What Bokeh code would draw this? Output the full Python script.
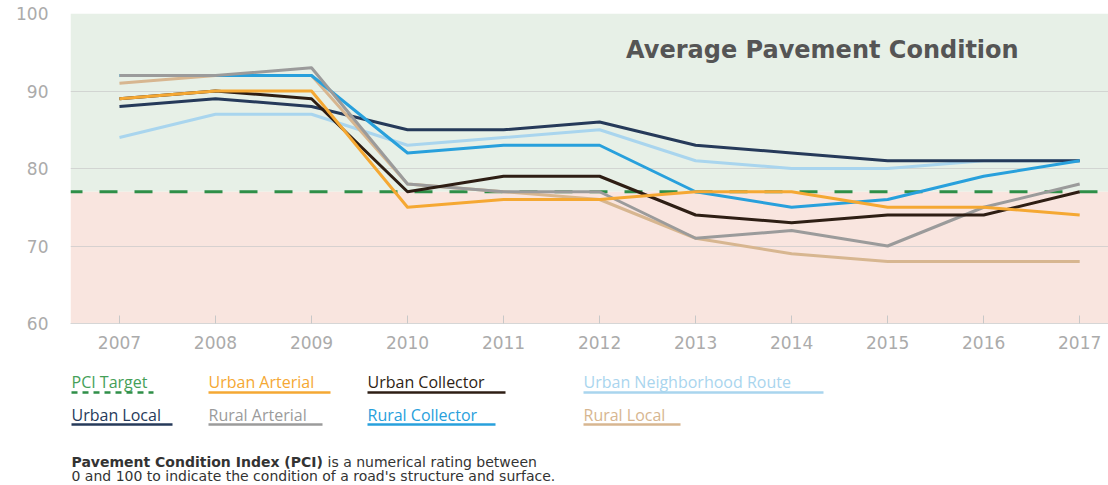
from bokeh.plotting import figure
from bokeh.models import Range1d, BoxAnnotation, Span, Label, FixedTicker
from bokeh.layouts import column
from bokeh.embed import file_html
from bokeh.resources import INLINE
from bokeh.core.properties import value

# ---------------- data ----------------
years = [2007, 2008, 2009, 2010, 2011, 2012, 2013, 2014, 2015, 2016, 2017]
pci_target = 77
urban_arterial = [89, 90, 90, 75, 76, 76, 77, 77, 75, 75, 74]
urban_collector = [89, 90, 89, 77, 79, 79, 74, 73, 74, 74, 77]
urban_neighborhood_route = [84, 87, 87, 83, 84, 85, 81, 80, 80, 81, 81]
urban_local = [88, 89, 88, 85, 85, 86, 83, 82, 81, 81, 81]
rural_arterial = [92, 92, 93, 78, 77, 77, 71, 72, 70, 75, 78]
rural_collector = [92, 92, 92, 82, 83, 83, 77, 75, 76, 79, 81]
rural_local = [91, 92, 92, 78, 77, 76, 71, 69, 68, 68, 68]
y_ticks = [60, 70, 80, 90, 100]
x_labels = [str(y) for y in years]

title_text = "Average Pavement Condition"
legend_labels = ["PCI Target", "Urban Arterial", "Urban Collector", "Urban Neighborhood Route",
                 "Urban Local", "Rural Arterial", "Rural Collector", "Rural Local"]
note_bold = "Pavement Condition Index (PCI)"
note_rest1 = "is a numerical rating between"
note_line2 = "0 and 100 to indicate the condition of a road's structure and surface."

# ---------------- styles ----------------
C_TARGET = "#2f8f48"
colors = {
    "Urban Arterial": "#f5a833",
    "Urban Collector": "#2e1e14",
    "Urban Neighborhood Route": "#a9d5ee",
    "Urban Local": "#263a5a",
    "Rural Arterial": "#9b9b9b",
    "Rural Collector": "#28a0dc",
    "Rural Local": "#d7b690",
}
# drawing order (bottom to top)
series = {
    "Urban Neighborhood Route": urban_neighborhood_route,
    "Urban Local": urban_local,
    "Rural Local": rural_local,
    "Rural Collector": rural_collector,
    "Rural Arterial": rural_arterial,
    "Urban Collector": urban_collector,
    "Urban Arterial": urban_arterial,
}

LABEL_FONT = "DejaVu Sans"
W = 1108
H1 = 358
H2 = 126

# ---------------- main chart ----------------
p = figure(width=W, height=H1, x_range=Range1d(2006.49, 2017.30), y_range=Range1d(60, 100),
           output_backend="svg", toolbar_location=None,
           min_border_left=70, min_border_right=0, min_border_top=13, min_border_bottom=35)
p.outline_line_color = None
p.background_fill_color = "white"
p.border_fill_color = "white"

p.add_layout(BoxAnnotation(bottom=pci_target, fill_color="#e7f0e7", fill_alpha=1,
                           line_color=None, level="image"))
p.add_layout(BoxAnnotation(top=pci_target, fill_color="#f9e5df", fill_alpha=1,
                           line_color=None, level="image"))

p.xgrid.visible = False
p.ygrid.ticker = FixedTicker(ticks=y_ticks)
p.ygrid.grid_line_color = "#c9c9c9"
p.ygrid.grid_line_alpha = 0.7

p.yaxis.ticker = FixedTicker(ticks=y_ticks)
p.yaxis.axis_line_color = None
p.yaxis.major_tick_line_color = None
p.yaxis.minor_tick_line_color = None
p.yaxis.major_label_text_color = "#ababab"
p.yaxis.major_label_text_font = LABEL_FONT
p.yaxis.major_label_text_font_size = "17px"
p.yaxis.major_label_standoff = 16

p.xaxis.ticker = FixedTicker(ticks=years)
p.xaxis.major_label_overrides = {y: s for y, s in zip(years, x_labels)}
p.xaxis.axis_line_color = "#d6d6d6"
p.xaxis.major_tick_in = 8
p.xaxis.major_tick_out = 0
p.xaxis.major_tick_line_color = "#c8c8c8"
p.xaxis.minor_tick_line_color = None
p.xaxis.major_label_text_color = "#ababab"
p.xaxis.major_label_text_font = LABEL_FONT
p.xaxis.major_label_text_font_size = "17px"
p.xaxis.major_label_standoff = 12

p.add_layout(Span(location=pci_target, dimension="width", line_color=C_TARGET, line_width=3,
                  line_dash="18 17", line_dash_offset=6, level="underlay"))

for name, vals in series.items():
    p.line(years, vals, line_color=colors[name], line_width=3, line_join="round")

p.add_layout(Label(x=2014.32, y=95.35, text=title_text, text_align="center", text_baseline="middle",
                   text_font="DejaVu Sans", text_font_style="bold", text_font_size="24px",
                   text_color="#555555"))

# ---------------- legend + note (coordinates in page pixels) ----------------
p2 = figure(width=W, height=H2, x_range=Range1d(70, W), y_range=Range1d(H2, 0),
            output_backend="svg", toolbar_location=None, x_axis_type=None, y_axis_type=None,
            min_border_left=70, min_border_right=0, min_border_top=0, min_border_bottom=0)
p2.outline_line_color = None
p2.grid.visible = False

leg_colors = [C_TARGET] + [colors[n] for n in legend_labels[1:]]
leg_text_colors = ["#45a058"] + [colors[n] for n in legend_labels[1:]]
leg_x0 = [71, 208, 367, 583, 71, 208, 367, 583]
leg_x1 = [153, 330, 505, 823, 172, 322, 495, 680]
leg_ty = [23, 23, 23, 23, 56, 56, 56, 56]
leg_ly = [34, 34, 34, 34, 66, 66, 66, 66]

p2.text(x=leg_x0, y=leg_ty, text=legend_labels, text_color=leg_text_colors,
        text_font=value("Open Sans"), text_font_size="16px", text_baseline="middle", text_align="left")
p2.segment(x0=leg_x0[1:], y0=leg_ly[1:], x1=leg_x1[1:], y1=leg_ly[1:], line_color=leg_colors[1:],
           line_width=2.5)
p2.segment(x0=leg_x0[:1], y0=leg_ly[:1], x1=leg_x1[:1], y1=leg_ly[:1], line_color=C_TARGET,
           line_width=2.5, line_dash="6 5")

NOTE_FS = 14
p2.text(x=[71], y=[103], text=[note_bold], text_color="#333333", text_font=value("DejaVu Sans"),
        text_font_style="bold", text_font_size=f"{NOTE_FS}px", text_baseline="middle")
p2.text(x=[327], y=[103], text=[note_rest1], text_color="#333333",
        text_font=value("DejaVu Sans"), text_font_size=f"{NOTE_FS}px", text_baseline="middle")
p2.text(x=[71], y=[117], text=[note_line2], text_color="#333333", text_font=value("DejaVu Sans"),
        text_font_size=f"{NOTE_FS}px", text_baseline="middle")

layout = column(p, p2, spacing=0)
open("out.html", "w").write(file_html(layout, INLINE))
